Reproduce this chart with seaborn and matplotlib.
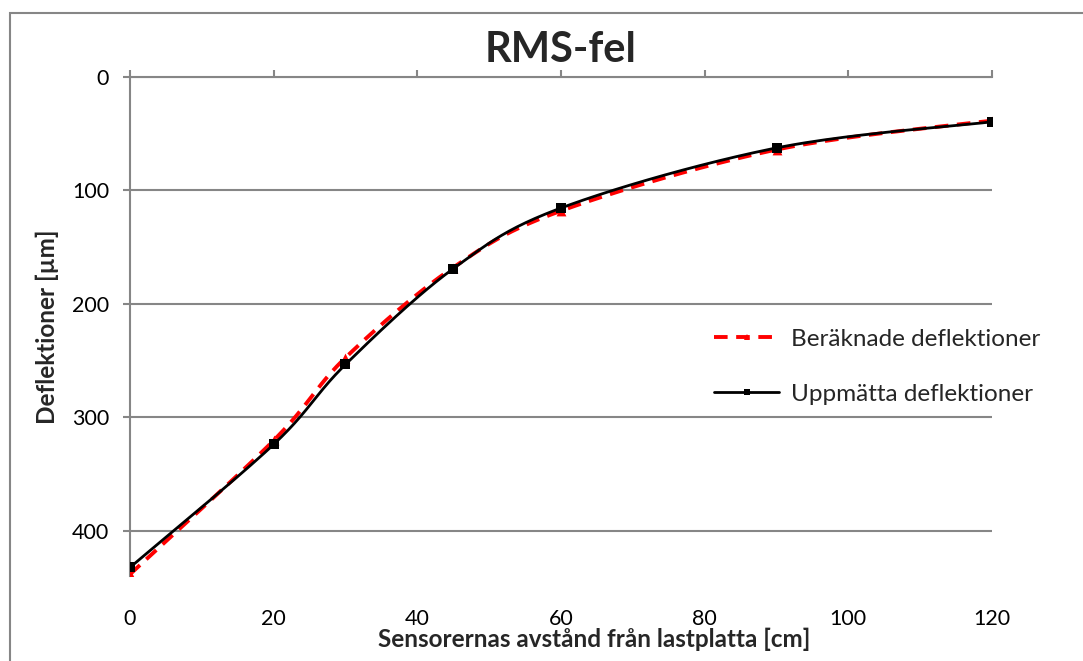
import numpy as np
import pandas as pd
import matplotlib
matplotlib.use("Agg")
import matplotlib.pyplot as plt
from matplotlib.lines import Line2D
from matplotlib.patches import Rectangle
import seaborn as sns

# ---- data ----
distance = [0, 20, 30, 45, 60, 90, 120]
calculated = [438.5, 320.5, 247.5, 168.0, 118.0, 64.0, 38.5]
measured = [432.5, 324.0, 253.5, 169.0, 115.5, 62.5, 39.5]
series_names = ["Beräknade deflektioner", "Uppmätta deflektioner"]
title = "RMS-fel"
xlabel = "Sensorernas avstånd från lastplatta [cm]"
ylabel = "Deflektioner [µm]"
xticks = [0, 20, 40, 60, 80, 100, 120]
yticks = [0, 100, 200, 300, 400]

sns.set_theme(style="white")
plt.rcParams["font.family"] = ["Lato", "DejaVu Sans"]


def smooth(xs, ys, n=40):
    """Excel-like smoothed line (Catmull-Rom Bezier) through the points."""
    P = np.column_stack([xs, ys]).astype(float)
    P_ext = np.vstack([P[0], P, P[-1]])
    out = []
    t = np.linspace(0, 1, n)[:, None]
    for i in range(1, len(P_ext) - 2):
        p0, p1, p2, p3 = P_ext[i - 1], P_ext[i], P_ext[i + 1], P_ext[i + 2]
        c1 = p1 + (p2 - p0) / 6.0
        c2 = p2 - (p3 - p1) / 6.0
        seg = ((1 - t) ** 3) * p1 + 3 * ((1 - t) ** 2) * t * c1 + 3 * (1 - t) * t ** 2 * c2 + t ** 3 * p2
        out.append(seg if i == 1 else seg[1:])
    s = np.vstack(out)
    return s[:, 0], s[:, 1]


fig = plt.figure(figsize=(10.83, 6.61), dpi=100)
ax = fig.add_axes([0.120, 0.1286, 0.796, 0.7549])

grid_col = "#868686"

# smoothed curves
cx, cy = smooth(distance, calculated)
mx, my = smooth(distance, measured)
df_c = pd.DataFrame({"x": cx, "y": cy})
df_m = pd.DataFrame({"x": mx, "y": my})
sns.lineplot(data=df_c, x="x", y="y", sort=False, ax=ax, color="#FF0000",
             linewidth=2.8, linestyle=(0, (3.5, 2.2)), zorder=3)
sns.lineplot(data=df_m, x="x", y="y", sort=False, ax=ax, color="black",
             linewidth=2.0, zorder=4)
# markers at data points
pts_c = pd.DataFrame({"x": distance, "y": calculated})
pts_m = pd.DataFrame({"x": distance, "y": measured})
sns.scatterplot(data=pts_c, x="x", y="y", ax=ax, marker="^", color="#FF0000",
                s=50, edgecolor="#FF0000", linewidth=0, zorder=5)
sns.scatterplot(data=pts_m, x="x", y="y", ax=ax, marker="s", color="black",
                s=48, edgecolor="black", linewidth=0, zorder=6)

ax.set_xlim(0, 120)
ax.set_ylim(440, 0)
ax.set_xticks(xticks)
ax.set_yticks(yticks)
ax.set_xticklabels([str(v) for v in xticks])
ax.set_yticklabels([str(v) for v in yticks])

ax.yaxis.grid(True, color=grid_col, linewidth=1.5)
ax.xaxis.grid(False)
ax.set_axisbelow(True)

for side in ["right", "bottom"]:
    ax.spines[side].set_visible(False)
for side in ["left", "top"]:
    ax.spines[side].set_color(grid_col)
    ax.spines[side].set_linewidth(1.5)

ax.tick_params(axis="x", top=True, bottom=False, labeltop=False, labelbottom=True,
               direction="out", length=5, width=1.5, color=grid_col,
               labelsize=15.5, pad=19, labelcolor="black")
ax.tick_params(axis="y", left=True, direction="out", length=5, width=1.5,
               color=grid_col, labelsize=15.5, pad=10, labelcolor="black")

ax.set_xlabel(xlabel, fontsize=17.5, fontweight="bold")
ax.xaxis.set_label_coords(0.538, -0.103)
ax.set_ylabel(ylabel, fontsize=17.5, fontweight="bold", labelpad=9)

fig.text(0.518, 0.925, title, ha="center", va="center", fontsize=30,
         fontweight="bold")

handles = [
    Line2D([], [], color="#FF0000", linewidth=2.8, linestyle=(0, (3.5, 2.2)),
           marker="^", markersize=5, markeredgewidth=0),
    Line2D([], [], color="black", linewidth=2.0, marker="s", markersize=5,
           markeredgewidth=0),
]
fig.legend(handles, series_names, loc="center left",
           bbox_to_anchor=(0.659, 0.445), frameon=False, fontsize=17.5,
           handlelength=2.7, handletextpad=0.5, labelspacing=1.4,
           borderpad=0, borderaxespad=0)

# outer chart frame
fig.patches.append(Rectangle((10 / 1083, -0.1), 1.2, 1.1 - 13 / 661,
                             transform=fig.transFigure, fill=False,
                             edgecolor=grid_col, linewidth=1.5))

fig.savefig("out.png", dpi=100)
